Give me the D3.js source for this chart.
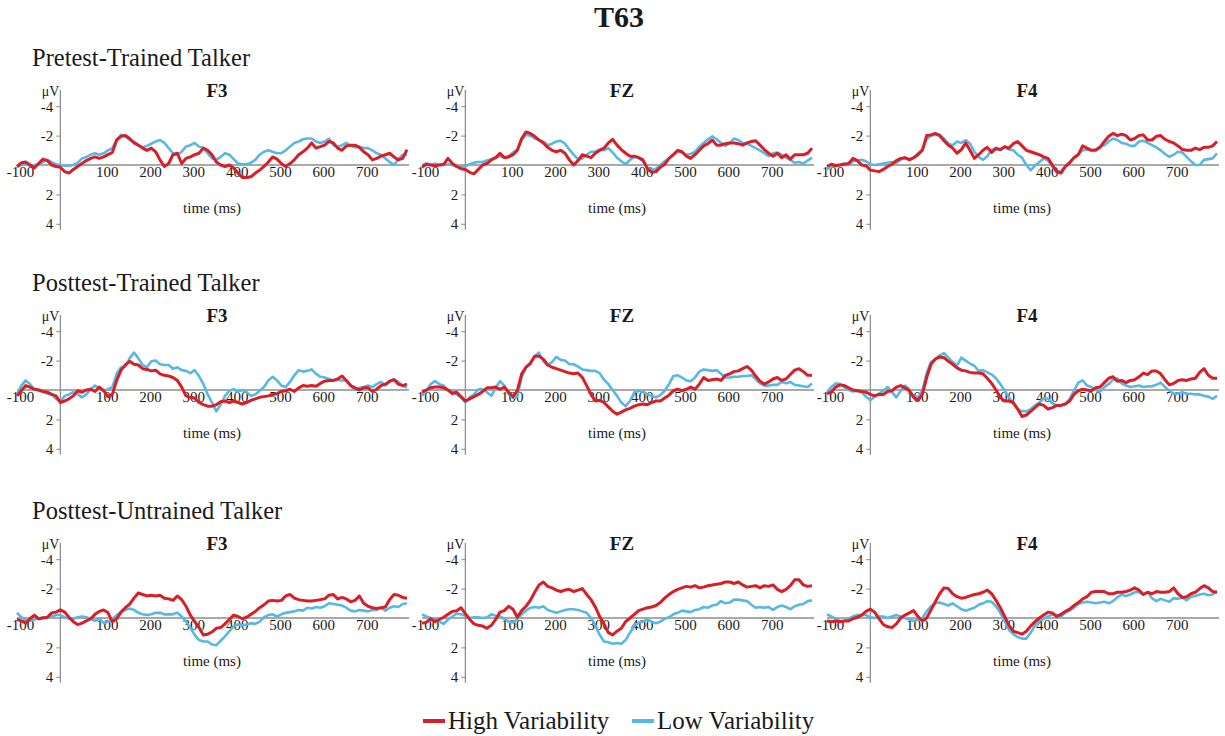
<!DOCTYPE html>
<html lang="en">
<head>
<meta charset="utf-8">
<title>T63</title>
<script src="https://cdnjs.cloudflare.com/ajax/libs/d3/7.8.5/d3.min.js"></script>
<style>
body { margin: 0; background: #fff; }
svg text { font-family: "Liberation Serif", "Times New Roman", serif; fill: #1a1a1a; }
</style>
</head>
<body>
<script>
// sampling grid (ms) and labels
const times = d3.range(-100, 801, 10);
const rowTitles = ["Pretest-Trained Talker", "Posttest-Trained Talker", "Posttest-Untrained Talker"];
const electrodes = ["F3", "FZ", "F4"];
const xTicks = [-100, 100, 200, 300, 400, 500, 600, 700];
const yTicks = [-4, -2, 2, 4];
const seriesNames = ["High Variability", "Low Variability"];

// amplitudes in µV, one value every 10 ms from -100 to 800
const preF3High = [0.1,-0.15,-0.2,0,0.2,-0.1,-0.4,-0.3,0,0.1,
  0.15,0.45,0.55,0.3,0.1,-0.1,-0.3,-0.45,-0.55,-0.45,
  -0.55,-0.7,-0.85,-1.7,-1.95,-2.0,-1.8,-1.5,-1.35,-1.15,
  -1.0,-1.15,-0.9,-0.35,0.1,-0.1,-0.7,-0.8,-0.1,-0.45,
  -0.55,-0.7,-0.8,-1.15,-1.0,-0.7,-0.2,0,0.1,0,
  0.2,0.55,0.85,0.85,0.8,0.55,0.35,0.1,-0.2,-0.55,
  -0.4,-0.1,0.1,-0.1,-0.35,-0.7,-0.9,-1.15,-1.5,-1.15,
  -1.25,-1.35,-1.6,-1.5,-1.15,-1.0,-1.3,-1.35,-1.35,-1.2,
  -0.9,-0.7,-0.35,-0.45,-0.6,-0.7,-0.8,-0.55,-0.35,-0.45,
  -1.05];
const preF3Low = [0.15,0,-0.1,0.05,0,-0.05,-0.2,-0.35,-0.2,-0.05,
  0,0.05,0.05,0,-0.15,-0.45,-0.55,-0.7,-0.8,-0.7,
  -0.8,-1.0,-1.15,-1.7,-2.05,-1.95,-1.7,-1.6,-1.35,-1.2,
  -1.3,-1.45,-1.6,-1.7,-1.5,-1.15,-0.8,-0.7,-0.9,-1.25,
  -1.35,-1.5,-1.25,-1.15,-0.8,-0.45,-0.35,-0.55,-0.8,-0.7,
  -0.4,-0.1,-0.05,-0.05,-0.15,-0.35,-0.7,-0.9,-1.0,-0.9,
  -0.8,-0.8,-1.0,-1.25,-1.5,-1.6,-1.75,-1.8,-1.8,-1.6,
  -1.5,-1.6,-1.8,-1.35,-1.25,-1.35,-1.5,-1.3,-1.2,-1.25,
  -1.15,-1.15,-1.0,-0.8,-0.7,-0.45,-0.2,0,-0.4,-0.7,
  -0.7];
const preFZHigh = [0.15,-0.05,0,0.05,0,-0.05,-0.45,-0.1,0.1,0.25,
  0.3,0.5,0.6,0.3,0,-0.1,-0.35,-0.5,-0.8,-0.5,
  -0.55,-0.7,-1.0,-1.8,-2.25,-2.15,-1.95,-1.7,-1.5,-1.2,
  -1.0,-0.9,-1.0,-0.8,-0.35,0,-0.3,-0.7,-0.6,-0.5,
  -0.8,-1.0,-1.15,-1.5,-1.75,-1.35,-1.05,-0.8,-0.6,-0.6,
  -0.5,-0.35,0.25,0.5,0.45,0.15,-0.05,-0.45,-0.7,-1.0,
  -0.9,-0.6,-0.45,-0.7,-1.0,-1.3,-1.45,-1.7,-1.35,-1.35,
  -1.45,-1.5,-1.5,-1.45,-1.35,-1.5,-1.6,-1.65,-1.35,-1.05,
  -0.8,-0.6,-0.8,-0.5,-0.7,-0.4,-0.7,-0.7,-0.7,-0.8,
  -1.15];
const preFZLow = [0,-0.1,0,-0.1,0,0,-0.05,0,0.1,0.1,
  0.1,-0.05,-0.15,-0.2,-0.2,-0.3,-0.4,-0.5,-0.6,-0.5,
  -0.6,-0.85,-1.05,-1.7,-2.05,-2.0,-1.8,-1.7,-1.6,-1.35,
  -1.45,-1.6,-1.65,-1.45,-1.05,-0.7,-0.4,-0.45,-0.7,-0.9,
  -0.9,-1.05,-1.0,-1.15,-0.85,-0.5,-0.25,-0.05,-0.35,-0.55,
  -0.5,-0.25,0.15,0.35,0.25,0,-0.25,-0.45,-0.7,-0.9,
  -0.85,-0.7,-0.75,-0.9,-1.25,-1.5,-1.75,-1.95,-1.75,-1.5,
  -1.3,-1.5,-1.8,-1.7,-1.5,-1.45,-1.3,-1.15,-1.0,-0.8,
  -0.6,-0.8,-0.85,-0.7,-0.5,-0.35,-0.15,-0.2,-0.1,-0.3,
  -0.5];
const preF4High = [0.1,-0.05,0.05,0,-0.05,-0.1,-0.45,-0.3,0,0.05,
  0.35,0.4,0.45,0.3,0.1,-0.05,-0.3,-0.45,-0.5,-0.35,
  -0.5,-0.7,-1.0,-2.0,-2.05,-2.15,-2.0,-1.65,-1.35,-1.15,
  -0.8,-1.05,-1.5,-1.0,-0.45,-0.7,-1.0,-1.2,-0.85,-1.15,
  -1.05,-1.25,-1.15,-1.45,-1.6,-1.3,-1.0,-0.9,-0.8,-0.7,
  -0.55,-0.45,0,0.45,0.55,0.1,-0.15,-0.5,-0.7,-1.3,
  -1.15,-1.0,-1.0,-1.2,-1.6,-1.95,-2.15,-2.0,-2.1,-2.0,
  -1.7,-1.8,-2.0,-2.05,-1.7,-1.7,-1.95,-2.0,-1.75,-1.6,
  -1.5,-1.3,-1.05,-1.0,-1.0,-1.15,-1.05,-1.2,-1.2,-1.3,
  -1.6];
const preF4Low = [0.3,0.15,0,0,-0.1,0,-0.25,-0.3,-0.35,-0.25,
  -0.05,0,-0.05,-0.1,-0.15,-0.2,-0.15,-0.35,-0.5,-0.4,
  -0.5,-0.8,-1.05,-1.75,-2.0,-2.05,-2.05,-1.8,-1.45,-1.35,
  -1.6,-1.5,-1.7,-1.45,-0.9,-0.55,-0.35,-0.6,-1.05,-1.05,
  -1.0,-1.2,-1.05,-1.0,-0.7,-0.5,0,0.35,0.05,-0.2,
  -0.45,-0.3,0.1,0.5,0.4,0.1,-0.2,-0.5,-0.75,-1.0,
  -1.05,-1.0,-1.05,-1.25,-1.35,-1.6,-1.8,-1.7,-1.5,-1.45,
  -1.3,-1.3,-1.6,-1.65,-1.5,-1.35,-1.2,-1.0,-0.75,-0.55,
  -0.7,-0.9,-0.85,-0.55,-0.25,0,0,-0.35,-0.4,-0.45,
  -0.8];
const postTrF3High = [0.4,0.05,-0.3,-0.2,-0.05,0,0.1,0.15,0.3,0.4,
  0.85,0.75,0.6,0.4,0.05,0.15,0,-0.05,0.1,-0.2,
  0.05,0.45,0.3,-0.65,-1.35,-1.7,-1.95,-1.75,-1.7,-1.45,
  -1.4,-1.3,-1.35,-1.1,-1.0,-0.95,-0.85,-0.65,-0.2,0.4,
  0.5,0.55,0.85,1.0,1.1,1.1,1.0,0.8,0.75,0.85,
  0.75,0.85,0.95,0.85,0.7,0.6,0.5,0.45,0.4,0.3,
  0.25,0.1,0.05,-0.05,0.1,-0.15,-0.3,-0.25,-0.3,-0.25,
  -0.45,-0.6,-0.65,-0.65,-0.75,-0.95,-0.65,-0.3,-0.15,0,
  -0.15,-0.15,0.1,-0.05,-0.3,-0.4,-0.6,-0.7,-0.4,-0.3,
  -0.4];
const postTrF3Low = [0.3,-0.3,-0.65,-0.4,-0.05,0,0.1,0.25,0.3,0.6,
  0.8,0.4,0.3,0.15,0.3,0.5,0.3,-0.05,-0.3,-0.15,
  0.05,-0.05,-0.2,-1.1,-1.55,-1.6,-2.15,-2.55,-2.15,-1.7,
  -1.55,-1.95,-2.0,-1.75,-1.7,-1.7,-1.45,-1.55,-1.35,-1.3,
  -1.15,-1.35,-0.95,-0.4,0.3,0.85,1.45,1.0,0.4,0.05,
  -0.05,0.1,0,0.15,0.4,0.3,0.05,-0.2,-0.65,-0.9,
  -0.65,-0.3,-0.2,-0.55,-1.0,-1.35,-1.25,-1.3,-1.4,-1.1,
  -0.9,-0.85,-0.75,-0.65,-0.7,-0.65,-0.65,-0.3,0,-0.15,
  -0.2,-0.3,-0.2,-0.4,-0.55,-0.3,-0.55,-0.75,-0.55,-0.3,
  -0.15];
const postTrFZHigh = [0.15,0,-0.15,-0.2,-0.2,-0.15,0,0.25,0.15,0.45,
  0.75,0.6,0.45,0.3,0.1,-0.15,-0.15,-0.2,-0.05,-0.2,
  0.15,0.45,0.05,-1.1,-1.55,-1.8,-2.3,-2.3,-2.1,-1.7,
  -1.55,-1.45,-1.35,-1.25,-1.15,-1.1,-1.15,-0.85,-0.3,0.3,
  0.75,0.7,0.85,1.15,1.45,1.65,1.5,1.35,1.25,1.1,
  1.0,0.95,1.0,0.85,0.75,0.75,0.55,0.35,0.05,-0.05,
  0.05,-0.05,-0.2,-0.05,-0.4,-0.85,-0.65,-0.7,-0.75,-0.65,
  -1.0,-1.1,-1.25,-1.3,-1.45,-1.6,-1.35,-0.95,-0.6,-0.4,
  -0.55,-0.75,-0.85,-0.65,-0.75,-1.05,-1.35,-1.45,-1.25,-1.0,
  -1.0];
const postTrFZLow = [0.4,0.05,-0.4,-0.6,-0.4,-0.3,0,0.05,0.3,0.5,
  0.85,0.5,0.3,-0.05,-0.05,0.15,0.4,-0.15,-0.6,-0.3,
  0.3,0.55,0.45,-0.85,-1.55,-1.85,-2.3,-2.55,-1.95,-1.7,
  -1.9,-2.25,-2.05,-2.0,-1.75,-1.75,-1.6,-1.4,-1.35,-1.3,
  -1.3,-1.15,-0.7,-0.4,0,0.4,0.85,1.1,0.75,0.15,
  0.05,0.1,0.3,0.4,0.5,0.35,0.05,-0.4,-0.95,-1.0,
  -0.85,-0.65,-0.6,-0.85,-1.25,-1.4,-1.35,-1.3,-1.35,-1.1,
  -0.85,-0.85,-0.9,-0.9,-0.95,-0.95,-1.0,-0.75,-0.45,-0.3,
  -0.3,-0.35,-0.35,-0.55,-0.45,-0.55,-0.35,-0.3,-0.25,-0.2,
  -0.45];
const postTrF4High = [0.25,0.15,-0.2,-0.35,-0.3,-0.15,0,0.05,0.1,0.15,
  0.3,0.4,0.3,0.3,0.1,0.05,-0.2,-0.3,-0.15,0.05,
  0.5,0.7,0.3,-0.85,-1.75,-2.1,-2.25,-2.2,-1.95,-1.75,
  -1.5,-1.35,-1.3,-1.2,-1.15,-1.15,-1.1,-0.8,-0.45,0,
  0.5,0.75,0.75,0.85,1.3,1.8,1.7,1.45,1.2,0.95,
  1.05,1.3,1.2,1.05,1.05,0.95,0.75,0.3,0.05,-0.05,
  0,0.05,-0.15,-0.2,-0.5,-0.8,-0.9,-0.6,-0.65,-0.5,
  -0.65,-0.7,-0.9,-1.15,-1.05,-1.3,-1.3,-1.1,-0.7,-0.35,
  -0.45,-0.65,-0.7,-0.65,-0.75,-0.8,-1.2,-1.45,-1.0,-0.8,
  -0.8];
const postTrF4Low = [0.15,-0.2,-0.45,-0.4,-0.2,0,0.1,0.05,0.15,0.45,
  0.7,0.45,0.25,0.05,-0.2,0.15,0.5,0.05,-0.3,-0.05,
  0.45,0.5,0.05,-1.15,-1.9,-2.1,-2.35,-2.5,-2.2,-1.9,
  -1.65,-2.2,-2.0,-1.8,-1.65,-1.3,-1.35,-1.2,-1.05,-0.8,
  -0.4,0.05,0.5,0.95,1.3,1.45,1.45,1.3,1.05,0.85,
  0.55,0.6,0.9,1.05,1.05,0.95,0.6,0.05,-0.5,-0.65,
  -0.3,-0.2,0,0.1,-0.2,-0.4,-0.7,-0.8,-0.45,-0.3,
  -0.2,-0.25,-0.3,-0.2,-0.25,-0.25,-0.35,-0.5,-0.2,0.05,
  0.25,0.25,0.15,0.25,0.25,0.3,0.3,0.4,0.45,0.6,
  0.4];
const postUnF3High = [0.1,0.2,0.35,0.05,-0.2,0.05,0,-0.05,-0.35,-0.4,
  -0.55,-0.4,-0.05,0.25,0.45,0.35,0.2,0.05,-0.25,-0.45,
  -0.55,-0.35,0.25,0.05,-0.4,-0.7,-0.95,-1.35,-1.7,-1.6,
  -1.5,-1.55,-1.5,-1.55,-1.35,-1.3,-1.2,-1.5,-1.25,-0.8,
  -0.2,0.25,0.65,1.15,1.1,0.95,0.7,0.65,0.4,0.1,
  -0.2,-0.1,0.05,-0.05,-0.25,-0.45,-0.7,-0.9,-1.15,-1.2,
  -1.15,-1.2,-1.5,-1.6,-1.35,-1.25,-1.2,-1.15,-1.15,-1.2,
  -1.25,-1.3,-1.55,-1.6,-1.3,-1.4,-1.3,-1.1,-1.2,-1.5,
  -1.0,-0.8,-0.7,-0.65,-0.7,-0.75,-1.25,-1.6,-1.55,-1.4,
  -1.35];
const postUnF3Low = [-0.35,-0.05,0.1,0.2,0.1,0.05,-0.05,0,-0.1,-0.2,
  -0.2,-0.05,0.05,0.05,-0.05,-0.1,-0.05,0.05,0.2,0.05,
  0.35,0.25,0.1,-0.2,-0.4,-0.55,-0.65,-0.55,-0.35,-0.25,
  -0.2,-0.25,-0.35,-0.35,-0.25,-0.25,-0.25,-0.35,-0.1,0.25,
  0.65,1.15,1.5,1.6,1.6,1.8,1.85,1.55,1.25,0.9,
  0.55,0.45,0.5,0.45,0.35,0.4,0.25,-0.05,-0.2,-0.25,
  -0.1,-0.25,-0.35,-0.4,-0.45,-0.55,-0.5,-0.7,-0.65,-0.75,
  -0.7,-0.8,-1.0,-0.95,-0.9,-0.85,-0.7,-0.5,-0.45,-0.55,
  -0.5,-0.45,-0.55,-0.55,-0.7,-0.5,-0.7,-0.8,-0.75,-0.95,
  -1.0];
const postUnFZHigh = [0.35,0.3,0.05,0.25,0.1,-0.05,-0.25,-0.45,-0.5,-0.7,
  -0.3,0.1,0.4,0.5,0.55,0.7,0.5,0.1,-0.4,-0.5,
  -0.8,-0.6,-0.05,-0.5,-0.8,-1.2,-1.75,-2.25,-2.45,-2.15,
  -2.05,-1.9,-1.8,-1.9,-1.95,-1.8,-1.9,-2.0,-1.6,-1.25,
  -0.75,-0.1,0.4,1.0,1.15,0.9,0.7,0.25,0,-0.25,
  -0.5,-0.6,-0.7,-0.75,-0.85,-1.05,-1.35,-1.6,-1.8,-1.95,
  -2.05,-2.15,-2.1,-2.2,-2.05,-2.1,-2.2,-2.25,-2.3,-2.35,
  -2.45,-2.45,-2.35,-2.45,-2.25,-2.1,-2.15,-2.2,-2.05,-2.2,
  -2.15,-2.25,-1.95,-1.8,-1.95,-2.2,-2.6,-2.6,-2.25,-2.15,
  -2.2];
const postUnFZLow = [-0.25,-0.1,0,0.1,0.25,0.4,0.1,-0.1,-0.3,-0.25,
  -0.15,0,-0.05,-0.05,0,-0.05,-0.25,-0.15,-0.1,0.05,
  0.25,0.3,0.1,-0.25,-0.5,-0.7,-0.75,-0.7,-0.8,-0.55,
  -0.45,-0.35,-0.45,-0.55,-0.6,-0.6,-0.55,-0.45,-0.35,0,
  0.5,1.15,1.6,1.65,1.75,1.7,1.75,1.5,1.0,0.55,
  0.3,0.25,0.1,0.25,0.35,0.25,0.05,-0.05,-0.25,-0.35,
  -0.5,-0.45,-0.4,-0.55,-0.6,-0.75,-0.7,-0.85,-0.9,-1.15,
  -1.0,-1.05,-1.25,-1.25,-1.2,-1.15,-0.9,-0.7,-0.75,-0.7,
  -0.75,-0.55,-0.75,-0.85,-0.75,-0.6,-0.8,-0.9,-0.95,-1.15,
  -1.2];
const postUnF4High = [0.2,0.25,0.2,0.25,0.2,0.2,0.05,-0.05,-0.2,-0.45,
  -0.6,-0.4,0.05,0.45,0.6,0.65,0.4,0,-0.2,-0.35,
  -0.5,-0.1,0.2,0,-0.55,-1.1,-1.65,-2.05,-2.0,-1.65,
  -1.45,-1.35,-1.4,-1.5,-1.6,-1.65,-1.75,-1.9,-1.65,-1.2,
  -0.7,-0.1,0.5,0.9,1.0,1.1,0.9,0.55,0.25,0,
  -0.2,-0.4,-0.35,-0.1,-0.25,-0.45,-0.6,-0.85,-1.05,-1.3,
  -1.45,-1.75,-1.8,-1.8,-1.8,-1.65,-1.65,-1.75,-1.75,-1.8,
  -1.9,-2.05,-1.9,-1.6,-1.75,-1.65,-1.8,-1.75,-1.75,-1.8,
  -2.05,-1.65,-1.4,-1.45,-1.65,-1.75,-2.0,-2.2,-2.05,-1.8,
  -1.75];
const postUnF4Low = [-0.25,-0.1,0.05,0.2,0.2,0.05,-0.1,-0.2,-0.2,-0.2,
  -0.05,0,-0.1,-0.1,0,-0.1,-0.2,-0.1,0,0.1,
  0.2,0.1,0,-0.45,-0.8,-1.0,-1.05,-0.95,-0.85,-1.0,
  -0.8,-0.6,-0.5,-0.6,-0.7,-0.9,-1.0,-1.15,-1.1,-0.8,
  -0.35,0.2,0.8,1.1,1.3,1.4,1.4,1.0,0.5,0.2,
  0.05,-0.1,-0.25,-0.2,-0.1,-0.35,-0.5,-0.7,-0.95,-1.05,
  -1.1,-1.05,-1.0,-1.05,-1.1,-1.0,-1.15,-1.4,-1.6,-1.5,
  -1.6,-1.75,-1.75,-1.6,-1.75,-1.35,-1.15,-1.3,-1.2,-1.1,
  -1.35,-1.3,-1.4,-1.2,-1.45,-1.5,-1.6,-1.65,-1.55,-1.6,
  -1.8];

const panels = [
  {row: 0, col: 0, high: preF3High, low: preF3Low},
  {row: 0, col: 1, high: preFZHigh, low: preFZLow},
  {row: 0, col: 2, high: preF4High, low: preF4Low},
  {row: 1, col: 0, high: postTrF3High, low: postTrF3Low},
  {row: 1, col: 1, high: postTrFZHigh, low: postTrFZLow},
  {row: 1, col: 2, high: postTrF4High, low: postTrF4Low},
  {row: 2, col: 0, high: postUnF3High, low: postUnF3Low},
  {row: 2, col: 1, high: postUnFZHigh, low: postUnFZLow},
  {row: 2, col: 2, high: postUnF4High, low: postUnF4Low}
];

//Width and height
const w = 1225;
const h = 736;
const colX0 = [17, 422, 827];
const rowZero = [165, 390, 618];
const plotW = 390;
const uv = 14.7;
const red = "#d81f27";
const blue = "#57b8e4";
const serif = "'Liberation Serif', 'Times New Roman', serif";

var svg = d3.select("body")
  .append("svg")
  .attr("width", w)
  .attr("height", h);

svg.append("text")
  .attr("x", 619)
  .attr("y", 27)
  .attr("text-anchor", "middle")
  .style("font-size", "30px")
  .style("font-weight", "bold")
  .text("T63");

rowTitles.forEach(function(t, i) {
  svg.append("text")
    .attr("x", 32)
    .attr("y", rowZero[i] - 99)
    .style("font-size", "24.5px")
    .text(t);
});

panels.forEach(function(p) {
  var x0 = colX0[p.col], zero = rowZero[p.row];
  var x = d3.scaleLinear().domain([-100, 800]).range([x0, x0 + plotW]);
  var y = d3.scaleLinear().domain([-4, 4]).range([zero - 4 * uv, zero + 4 * uv]);
  var g = svg.append("g");

  //zero line
  g.append("line")
    .attr("x1", x(-100)).attr("x2", x(800) + 2)
    .attr("y1", zero).attr("y2", zero)
    .attr("stroke", "#555").attr("stroke-width", 1.2);

  //y axis
  var ya = g.append("g")
    .attr("transform", "translate(" + x(0) + ",0)")
    .call(d3.axisLeft(y).tickValues(yTicks).tickSize(4).tickPadding(3).tickFormat(function(d) { return String(d); }));
  ya.select(".domain").remove();
  ya.attr("font-family", serif).attr("font-size", 15);
  ya.selectAll("line").attr("stroke", "#888");
  g.append("line")
    .attr("x1", x(0)).attr("x2", x(0))
    .attr("y1", y(-5.1)).attr("y2", y(4.4))
    .attr("stroke", "#888").attr("stroke-width", 1.2);

  //x tick labels below the zero line
  var xa = g.append("g")
    .attr("transform", "translate(3," + zero + ")")
    .call(d3.axisBottom(x).tickValues(xTicks).tickSize(0).tickPadding(1).tickFormat(function(d) { return String(d); }));
  xa.select(".domain").remove();
  xa.attr("font-family", serif).attr("font-size", 15);

  g.append("text")
    .attr("x", x(350)).attr("y", zero + 48)
    .attr("text-anchor", "middle")
    .style("font-size", "15px")
    .text("time (ms)");

  g.append("text")
    .attr("x", x(0) - 1).attr("y", zero - 69)
    .attr("text-anchor", "end")
    .style("font-size", "14px")
    .text("μV");

  g.append("text")
    .attr("x", x0 + 200).attr("y", zero - 68)
    .attr("text-anchor", "middle")
    .style("font-size", "19px")
    .style("font-weight", "bold")
    .text(electrodes[p.col]);

  var line = d3.line()
    .x(function(d, i) { return x(times[i]); })
    .y(function(d) { return y(d); });

  g.append("path").datum(p.low)
    .attr("d", line).attr("fill", "none")
    .attr("stroke", blue).attr("stroke-width", 2.6).attr("stroke-linejoin", "round");
  g.append("path").datum(p.high)
    .attr("d", line).attr("fill", "none")
    .attr("stroke", red).attr("stroke-width", 3).attr("stroke-linejoin", "round");
});

//legend
var legendX = [423, 632];
[red, blue].forEach(function(c, i) {
  svg.append("line")
    .attr("x1", legendX[i]).attr("x2", legendX[i] + 22)
    .attr("y1", 721).attr("y2", 721)
    .attr("stroke", c).attr("stroke-width", 4);
  svg.append("text")
    .attr("x", legendX[i] + 25).attr("y", 729)
    .style("font-size", "25px")
    .text(seriesNames[i]);
});
</script>
</body>
</html>
